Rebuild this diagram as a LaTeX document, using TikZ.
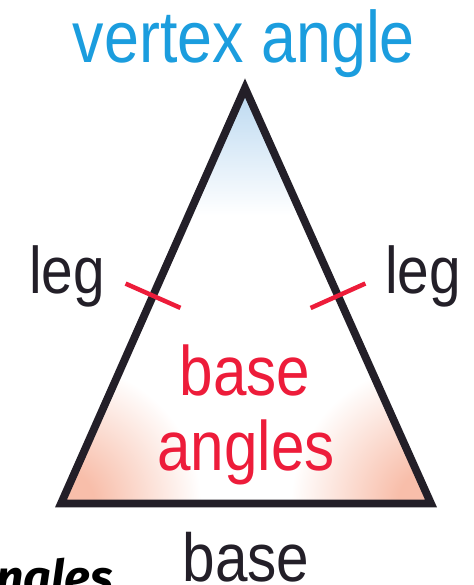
\documentclass[tikz,border=0pt]{standalone}
\usepackage{fontspec}
\setmainfont{Liberation Sans}[FakeStretch=0.86]
\newfontfamily\handfont{Fira Sans}
\usetikzlibrary{calc}
\definecolor{vblue}{RGB}{27,157,222}
\definecolor{bred}{RGB}{237,28,58}
\definecolor{inkc}{RGB}{35,31,40}
\definecolor{peachc}{RGB}{248,190,170}
\definecolor{skyb}{RGB}{184,215,240}
\pgfdeclareradialshading{cornerfade}{\pgfpoint{0bp}{0bp}}{color(0bp)=(peachc); color(6bp)=(peachc); color(25bp)=(white); color(50bp)=(white)}
\begin{document}
\begin{tikzpicture}[x=1pt,y=-1pt,
  lbl/.style={inner sep=0pt, anchor=base},
  bluetext/.style={lbl, text=vblue, font={\fontsize{73}{80}\selectfont}},
  redtext/.style={lbl, text=bred, font={\fontsize{70}{76}\selectfont}},
  blacktext/.style={lbl, text=inkc, font={\fontsize{66}{72}\selectfont}},
  side/.style={line width=7.8pt, draw=inkc, line join=miter, miter limit=10},
  tickmark/.style={line width=4.5pt, draw=bred}
]
\useasboundingbox (0,0) rectangle (473,585);
\coordinate (A) at (245,88);
\coordinate (B) at (61,503.5);
\coordinate (C) at (431,503.5);
% interior shading
\begin{scope}
  \clip (A) -- (B) -- (C) -- cycle;
  \shade[top color=skyb, bottom color=white] (140,84) rectangle (350,215);
  \shade[shading=cornerfade] (B) circle[radius=140];
  \shade[shading=cornerfade] (C) circle[radius=140];
\end{scope}
% labels
\node[bluetext] (vtx) at (244,63) {vertex angle};
\node[blacktext] (legl) at (67,293) {leg};
\node[blacktext] (legr) at (423,293) {leg};
\node[redtext] (rb) at (245,395) {base};
\node[redtext] (ra) at (246,470) {angles};
\node[blacktext, font={\fontsize{68}{72}\selectfont}] (bs) at (246,581) {base};
\node[lbl, anchor=base west, text=black, font={\handfont\bfseries\itshape\fontsize{48}{50}\selectfont}] (ng) at (-4,594) {ngles};
% triangle
\draw[side] (A) -- (B) -- (C) -- cycle;
% congruence ticks
\coordinate (M1) at ($(A)!0.5!(B)$);
\coordinate (M2) at ($(A)!0.5!(C)$);
\draw[tickmark] ($(M1)!30pt!90:(B)$) -- ($(M1)!30pt!-90:(B)$);
\draw[tickmark] ($(M2)!30pt!90:(C)$) -- ($(M2)!30pt!-90:(C)$);
\end{tikzpicture}
\end{document}
